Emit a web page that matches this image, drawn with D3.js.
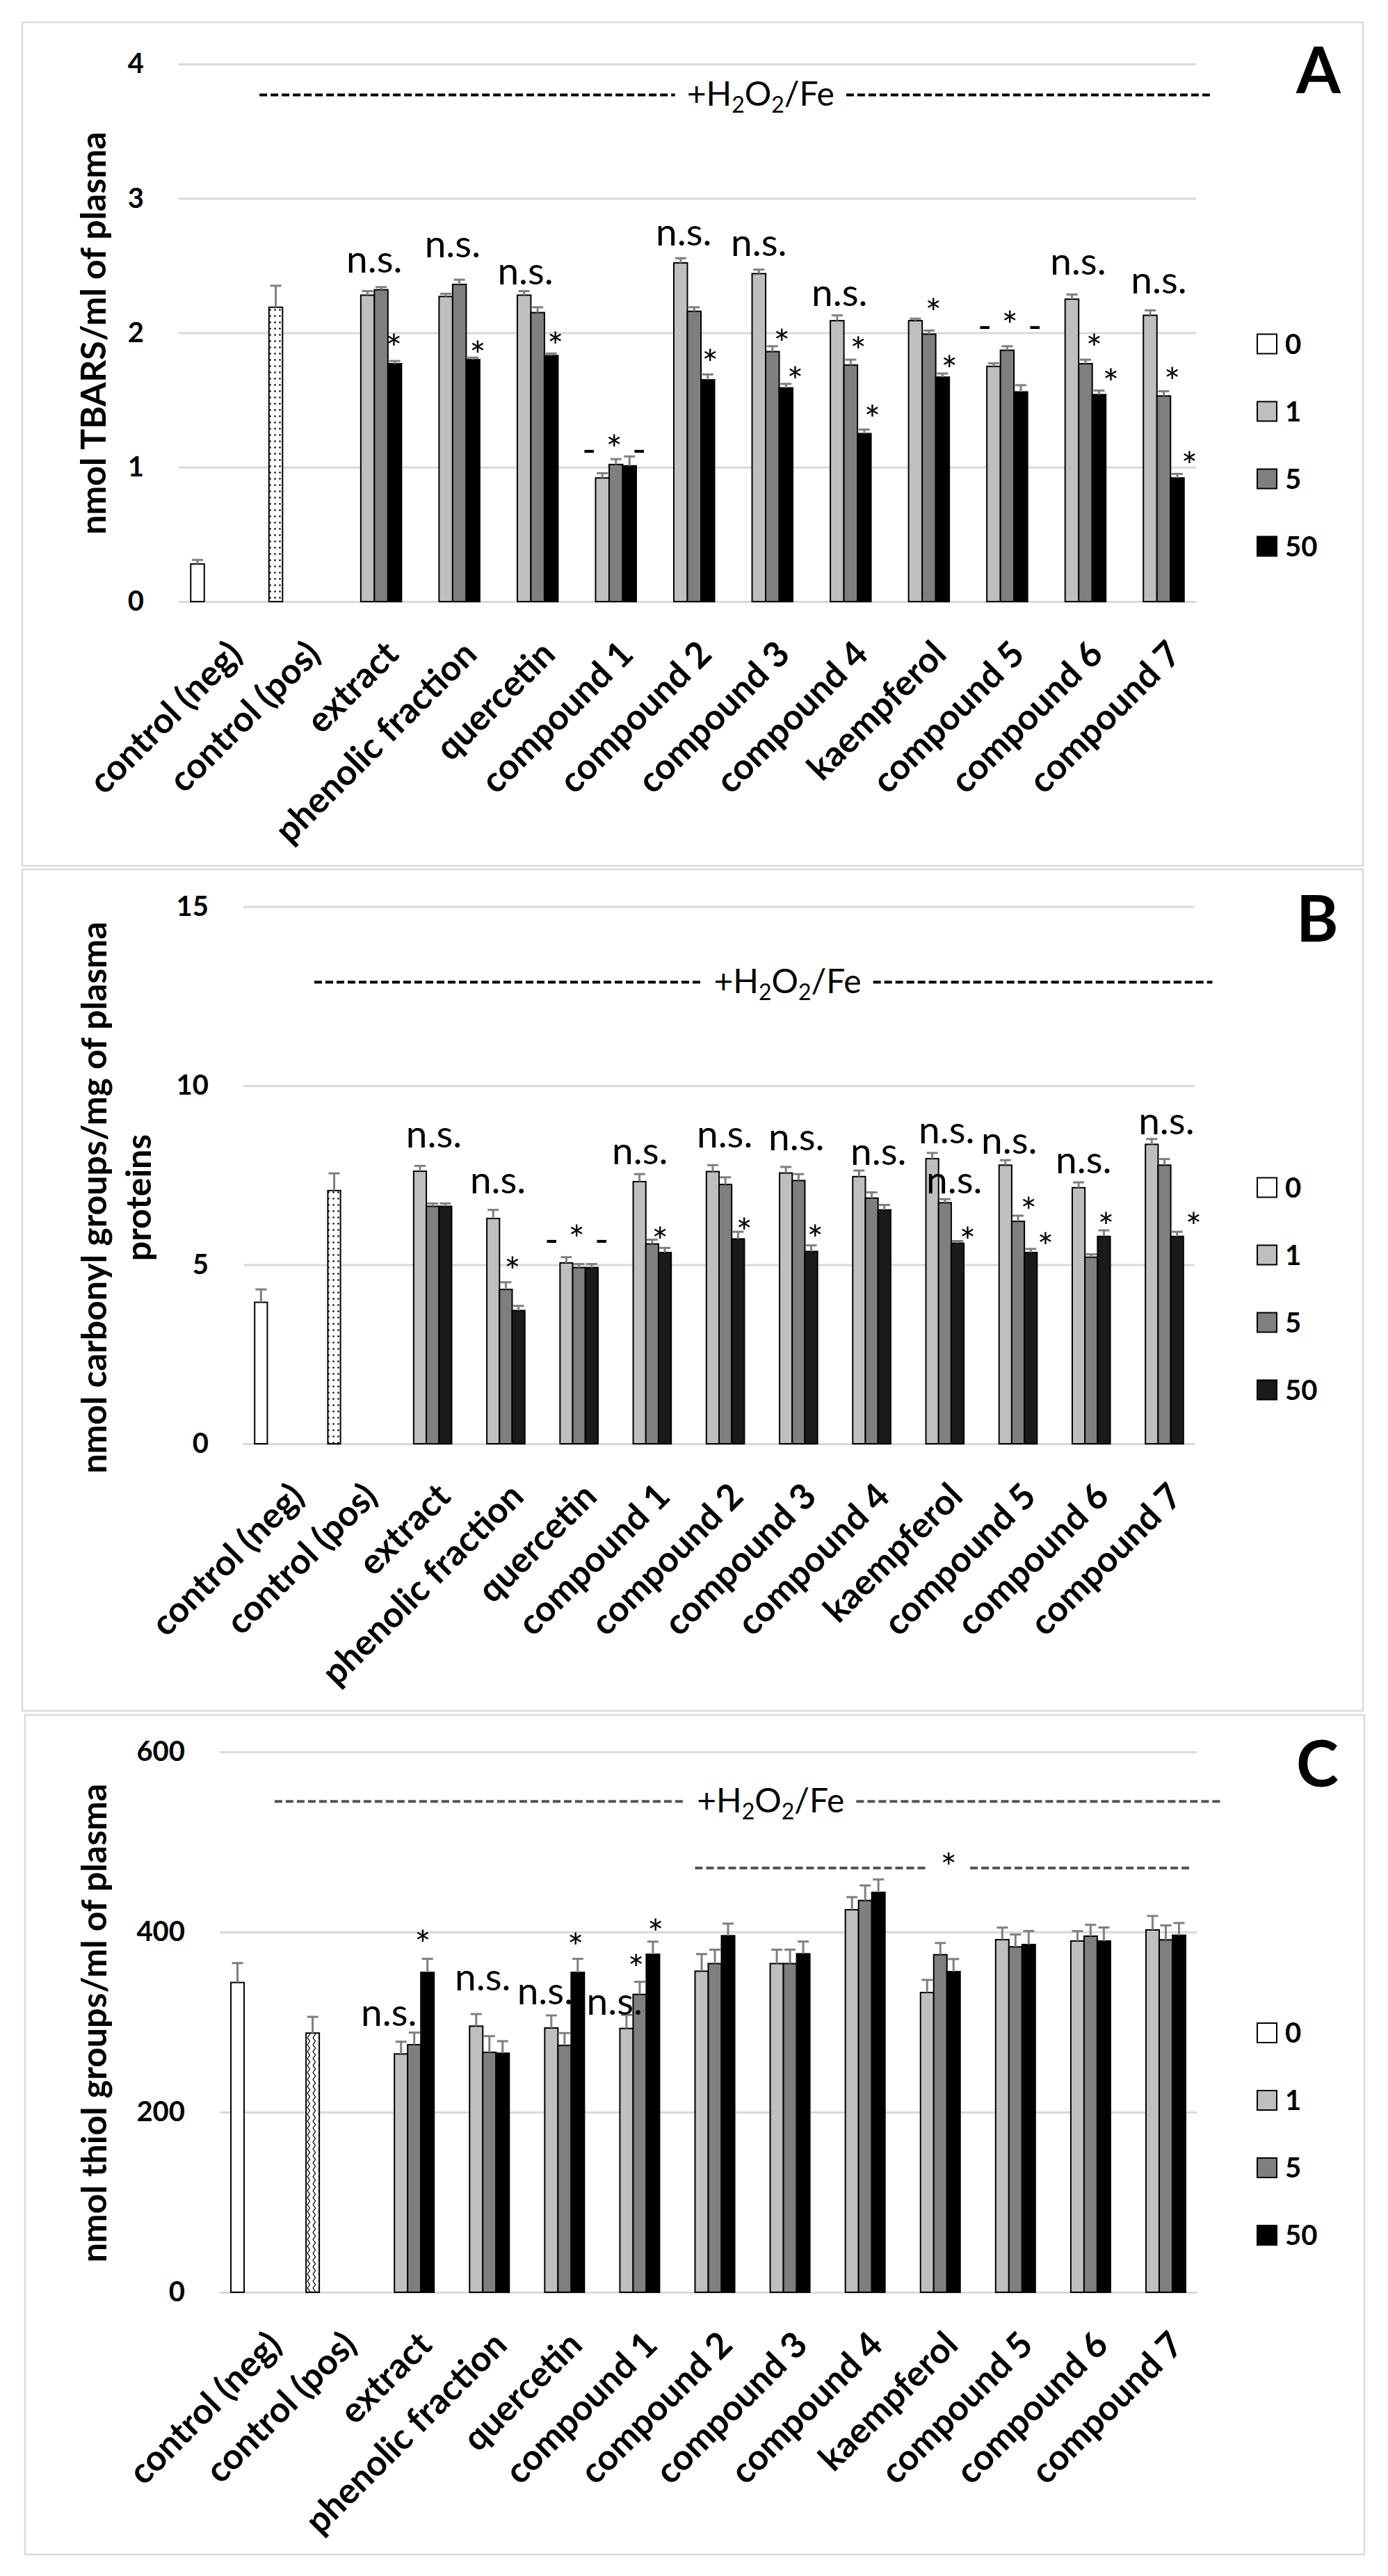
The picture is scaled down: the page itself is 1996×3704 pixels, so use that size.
<!DOCTYPE html>
<html><head><meta charset="utf-8">
<script src="https://cdn.jsdelivr.net/npm/d3@7"></script>
<style>
html,body{margin:0;padding:0;background:#fff;}
svg{display:block;font-family:Lato,"Open Sans",sans-serif;}
</style></head><body>
<svg id="chart" width="1996" height="3704"></svg>
<script>
const N = null;
const categories = ["control (neg)","control (pos)","extract","phenolic fraction","quercetin","compound 1","compound 2","compound 3","compound 4","kaempferol","compound 5","compound 6","compound 7"];
const doses = ["0","1","5","50"];

// ---- Panel A: TBARS (nmol/ml plasma)
const tbarsDose0  = [0.28,2.19,N,N,N,N,N,N,N,N,N,N,N];
const tbarsDose1  = [N,N,2.28,2.27,2.28,0.92,2.52,2.44,2.09,2.09,1.75,2.25,2.13];
const tbarsDose5  = [N,N,2.32,2.36,2.15,1.02,2.16,1.86,1.76,1.99,1.87,1.77,1.53];
const tbarsDose50 = [N,N,1.77,1.80,1.83,1.01,1.65,1.59,1.25,1.67,1.56,1.54,0.92];
const tbarsErr0  = [0.03,0.16,N,N,N,N,N,N,N,N,N,N,N];
const tbarsErr1  = [N,N,0.03,0.02,0.03,0.035,0.035,0.03,0.04,0.015,0.023,0.035,0.037];
const tbarsErr5  = [N,N,0.02,0.035,0.04,0.04,0.03,0.04,0.04,0.027,0.03,0.03,0.035];
const tbarsErr50 = [N,N,0.02,0.015,0.016,0.07,0.04,0.03,0.03,0.027,0.05,0.03,0.03];
// annotations: [category, slot within cluster, level]
const tbarsNs = [["extract",1.5,2.45],["phenolic fraction",1.5,2.56],["quercetin",1.1,2.36],["compound 2",1.23,2.65],["compound 3",1.0,2.57],["compound 4",1.18,2.2],["compound 6",1.46,2.43],["compound 7",1.64,2.29]];
const tbarsStar = [["extract",2.94,1.785],["phenolic fraction",3.35,1.733],["quercetin",3.31,1.80],["compound 2",3.18,1.671],["compound 3",2.69,1.821],["compound 3",3.67,1.542],["compound 4",2.56,1.764],["compound 4",3.59,1.257],["kaempferol",2.33,2.049],["kaempferol",3.51,1.624],["compound 6",2.64,1.785],["compound 6",3.87,1.526],["compound 7",2.62,1.536],["compound 7",3.9,0.91]];
const tbarsGroupStar = [["compound 1",1.87,1.035],["compound 5",2.2,1.956]];

// ---- Panel B: carbonyl groups (nmol/mg plasma proteins)
const carbDose0  = [3.95,7.07,N,N,N,N,N,N,N,N,N,N,N];
const carbDose1  = [N,N,7.61,6.29,5.05,7.32,7.60,7.56,7.46,7.96,7.78,7.15,8.36];
const carbDose5  = [N,N,6.63,4.31,4.92,5.58,7.24,7.35,6.86,6.73,6.21,5.21,7.78];
const carbDose50 = [N,N,6.63,3.72,4.92,5.34,5.72,5.37,6.53,5.60,5.34,5.79,5.79];
const carbErr0  = [0.36,0.48,N,N,N,N,N,N,N,N,N,N,N];
const carbErr1  = [N,N,0.15,0.24,0.16,0.21,0.18,0.17,0.17,0.16,0.14,0.15,0.15];
const carbErr5  = [N,N,0.08,0.20,0.10,0.12,0.20,0.18,0.16,0.10,0.16,0.08,0.17];
const carbErr50 = [N,N,0.08,0.13,0.10,0.13,0.20,0.17,0.14,0.06,0.10,0.17,0.13];
const carbNs = [["extract",2.1,8.27],["phenolic fraction",1.38,6.99],["compound 1",1.03,7.80],["compound 2",1.95,8.27],["compound 3",1.83,8.19],["compound 4",2.53,7.78],["kaempferol",2.14,8.38],["kaempferol",2.74,6.99],["compound 5",1.30,8.10],["compound 6",1.40,7.56],["compound 7",2.16,8.64]];
const carbStar = [["phenolic fraction",2.53,4.45],["compound 1",2.62,5.28],["compound 2",3.49,5.53],["compound 3",3.31,5.34],["kaempferol",3.79,5.28],["compound 5",2.84,6.12],["compound 5",4.16,5.13],["compound 6",3.16,5.69],["compound 7",4.3,5.69]];
const carbGroupStar = [["quercetin",1.81,5.34]];

// ---- Panel C: thiol groups (nmol/ml plasma)
const thiolDose0  = [343.9,287.8,N,N,N,N,N,N,N,N,N,N,N];
const thiolDose1  = [N,N,264.6,295.5,293.4,292.9,356.5,364.9,424.7,332.8,391.5,390.0,402.3];
const thiolDose5  = [N,N,274.9,266.4,274.1,330.7,364.9,364.9,435.0,374.8,383.5,395.4,391.3];
const thiolDose50 = [N,N,355.2,265.4,355.2,375.3,395.9,375.8,444.0,356.0,386.1,390.0,396.4];
const thiolErr0  = [21.6,18,N,N,N,N,N,N,N,N,N,N,N];
const thiolErr1  = [N,N,13.6,13.4,14,15,19,15.5,14,14,13.4,11,15.5];
const thiolErr5  = [N,N,13.4,18,13.7,14,15.5,15.5,16.7,13,13.7,12.6,16];
const thiolErr50 = [N,N,15,13.4,15,14,13.4,13.6,14.4,14,15,15,13.6];
const thiolNs = [["extract",0.08,295.5],["phenolic fraction",1.5,335.4],["quercetin",0.53,320],["compound 1",0.1,308.4]];
const thiolStar = [["extract",2.64,371.4],["quercetin",2.84,368.3],["compound 1",1.73,344.4],["compound 1",3.2,383.8]];
const thiolGroupStar = [];

const yTicksA = [0,1,2,3,4];
const yTicksB = [0,5,10,15];
const yTicksC = [0,200,400,600];

const fills = ["#ffffff","#bfbfbf","#7f7f7f","#000000"];

const svg = d3.select("#chart");
svg.append("rect").attr("width",1996).attr("height",3704).attr("fill","#fff");
const defs = svg.append("defs");
const pd = defs.append("pattern").attr("id","dots").attr("patternUnits","userSpaceOnUse").attr("width",7).attr("height",9);
pd.append("rect").attr("width",7).attr("height",9).attr("fill","#fff");
pd.append("circle").attr("cx",3.5).attr("cy",4.5).attr("r",1.3).attr("fill","#000");
const pz = defs.append("pattern").attr("id","zig").attr("patternUnits","userSpaceOnUse").attr("width",8).attr("height",10);
pz.append("rect").attr("width",8).attr("height",10).attr("fill","#fff");
pz.append("path").attr("d","M2,0 L5.5,5 L2,10").attr("stroke","#000").attr("fill","none").attr("stroke-width",1.3);

const panels = [
 {letter:"A", box:[32,32,1960,1245], x0:257, x1:1720, yZero:865, yTop:92, domain:[0,4], ticks:yTicksA, barW:19.5,
  title:["nmol TBARS/ml of plasma"], titleX:[152], titleY:479,
  values:[tbarsDose0,tbarsDose1,tbarsDose5,tbarsDose50], errors:[tbarsErr0,tbarsErr1,tbarsErr5,tbarsErr50],
  ns:tbarsNs, stars:tbarsStar, groupStars:tbarsGroupStar,
  topLine:{from:["control (pos)",-1.2], to:["compound 7",5.44], y:3.77, at:0.527},
  legendTop:494.5, letterY:134, pattern:"dots", dashColor:"#000", dashW:4, black:"#000"},
 {letter:"B", box:[32,1250,1960,2460], x0:350, x1:1718, yZero:2076, yTop:1303.5, domain:[0,15], ticks:yTicksB, barW:18.2,
  title:["nmol carbonyl groups/mg of plasma","proteins"], titleX:[153,217], titleY:1722,
  values:[carbDose0,carbDose1,carbDose5,carbDose50], errors:[carbErr0,carbErr1,carbErr5,carbErr50],
  ns:carbNs, stars:carbStar, groupStars:carbGroupStar,
  topLine:{from:["control (pos)",-1.57], to:["compound 7",5.79], y:12.89, at:0.527},
  legendTop:1707.5, letterY:1354, pattern:"dots", dashColor:"#000", dashW:4, black:"#1a1a1a"},
 {letter:"C", box:[36,2466,1962,3673], x0:316, x1:1721, yZero:3296, yTop:2519, domain:[0,600], ticks:yTicksC, barW:19,
  title:["nmol thiol groups/ml of plasma"], titleX:[153], titleY:2909,
  values:[thiolDose0,thiolDose1,thiolDose5,thiolDose50], errors:[thiolErr0,thiolErr1,thiolErr5,thiolErr50],
  ns:thiolNs, stars:thiolStar, groupStars:thiolGroupStar,
  topLine:{from:["control (pos)",-2.88], to:["compound 7",6.34], y:545, at:0.523},
  groupLine:{from:["compound 2",0.5], to:["compound 7",4.0], y:471, starY:457, at:0.51},
  legendTop:2923, letterY:2569, pattern:"zig", dashColor:"#555", dashW:4, black:"#000"}
];

function drawPanel(p){
  const g = svg.append("g");
  const x = d3.scaleBand().domain(categories).range([p.x0,p.x1]).padding(0);
  const y = d3.scaleLinear().domain(p.domain).range([p.yZero,p.yTop]);
  const sx = (cat,slot) => x(cat) + x.bandwidth()/2 + (slot-1.5)*p.barW;
  const fillFor = (s,i) => (s===0 && i===1) ? `url(#${p.pattern})` : (s===3 ? p.black : fills[s]);

  g.append("rect").attr("x",p.box[0]).attr("y",p.box[1]).attr("width",p.box[2]-p.box[0]).attr("height",p.box[3]-p.box[1])
   .attr("fill","none").attr("stroke","#d9d9d9").attr("stroke-width",2.5);

  const ya = g.append("g").attr("transform",`translate(${p.x0},0)`)
    .call(d3.axisLeft(y).tickValues(p.ticks).tickSize(-(p.x1-p.x0)).tickPadding(50).tickFormat(d3.format("d")));
  ya.select(".domain").remove();
  ya.selectAll(".tick line").attr("stroke","#d9d9d9").attr("stroke-width",3);
  ya.selectAll(".tick text").attr("font-family","Lato").attr("font-weight","bold").attr("font-size",40).attr("fill","#000");

  const xa = g.append("g").attr("transform",`translate(0,${p.yZero})`).call(d3.axisBottom(x).tickSize(0));
  xa.select(".domain").attr("stroke","#d9d9d9").attr("stroke-width",3);
  xa.selectAll(".tick text").attr("font-family","Lato").attr("font-weight","bold").attr("font-size",51).attr("fill","#000")
    .attr("text-anchor","end").attr("x",0).attr("y",0).attr("dy","0.35em")
    .attr("transform","translate(25,66) rotate(-45)");

  p.values.forEach((arr,s)=>{
    const data = arr.map((v,i)=>({v,i,e:p.errors[s][i]})).filter(d=>d.v!==null);
    g.append("g").selectAll("rect").data(data).join("rect")
      .attr("x",d=>sx(categories[d.i],s)-p.barW/2).attr("width",p.barW)
      .attr("y",d=>y(d.v)).attr("height",d=>y(0)-y(d.v))
      .attr("fill",d=>fillFor(s,d.i)).attr("stroke","#000").attr("stroke-width",2);
    const eg = g.append("g").attr("stroke","#7f7f7f").attr("stroke-width",3);
    eg.selectAll("line.v").data(data).join("line").attr("class","v")
      .attr("x1",d=>sx(categories[d.i],s)).attr("x2",d=>sx(categories[d.i],s))
      .attr("y1",d=>y(d.v)).attr("y2",d=>y(d.v+d.e));
    eg.selectAll("line.c").data(data).join("line").attr("class","c")
      .attr("x1",d=>sx(categories[d.i],s)-8).attr("x2",d=>sx(categories[d.i],s)+8)
      .attr("y1",d=>y(d.v+d.e)).attr("y2",d=>y(d.v+d.e));
  });

  const ann = g.append("g").attr("font-family","Lato").attr("font-size",55).attr("fill","#000").attr("text-anchor","middle");
  ann.selectAll("text.ns").data(p.ns).join("text").attr("class","ns")
    .attr("x",d=>sx(d[0],d[1])).attr("y",d=>y(d[2])).text("n.s.");
  ann.selectAll("text.st").data(p.stars).join("text").attr("class","st")
    .attr("x",d=>sx(d[0],d[1])).attr("y",d=>y(d[2])).text("*");
  ann.selectAll("text.gs").data(p.groupStars).join("text").attr("class","gs")
    .attr("x",d=>sx(d[0],d[1])).attr("y",d=>y(d[2])).text("- * -");

  const tl = p.topLine;
  const lx0 = sx(tl.from[0],tl.from[1]), lx1 = sx(tl.to[0],tl.to[1]);
  const ly = y(tl.y);
  const tcx = lx0 + tl.at*(lx1-lx0);
  const t = g.append("text").attr("font-family","Lato").attr("font-size",48).attr("fill","#000")
    .attr("text-anchor","middle").attr("x",tcx).attr("y",ly+16);
  t.append("tspan").text("+H");
  t.append("tspan").attr("font-size",32).attr("dy",10).text("2");
  t.append("tspan").attr("dy",-10).text("O");
  t.append("tspan").attr("font-size",32).attr("dy",10).text("2");
  t.append("tspan").attr("dy",-10).text("/Fe");
  const tw = t.node().getComputedTextLength();
  const dashG = g.append("g").attr("stroke",p.dashColor).attr("stroke-width",p.dashW).attr("stroke-dasharray","11 5");
  dashG.append("line").attr("x1",lx0).attr("x2",tcx-tw/2-17).attr("y1",ly).attr("y2",ly);
  dashG.append("line").attr("x1",tcx+tw/2+17).attr("x2",lx1).attr("y1",ly).attr("y2",ly);

  if(p.groupLine){
    const gl = p.groupLine;
    const gx0 = sx(gl.from[0],gl.from[1]), gx1 = sx(gl.to[0],gl.to[1]);
    const gy = y(gl.y), gcx = gx0 + gl.at*(gx1-gx0);
    g.append("text").attr("font-family","Lato").attr("font-size",55).attr("text-anchor","middle")
      .attr("x",gcx).attr("y",y(gl.starY)).text("*");
    dashG.append("line").attr("x1",gx0).attr("x2",gcx-31).attr("y1",gy).attr("y2",gy);
    dashG.append("line").attr("x1",gcx+31).attr("x2",gx1).attr("y1",gy).attr("y2",gy);
  }

  p.title.forEach((line,k)=>{
    g.append("text").attr("font-family","Lato").attr("font-weight","bold").attr("font-size",50)
      .attr("text-anchor","middle").attr("transform",`translate(${p.titleX[k]},${p.titleY}) rotate(-90)`).text(line);
  });

  const lg = g.append("g");
  doses.forEach((d,s)=>{
    const cy = p.legendTop + s*97;
    lg.append("rect").attr("x",1808).attr("y",cy-14).attr("width",28).attr("height",28)
      .attr("fill",s===3?p.black:fills[s]).attr("stroke","#000").attr("stroke-width",2);
    lg.append("text").attr("x",1848).attr("y",cy).attr("dy","0.36em").attr("font-family","Lato")
      .attr("font-weight","bold").attr("font-size",40).text(d);
  });

  g.append("text").attr("x",1864).attr("y",p.letterY).attr("font-family","Lato").attr("font-weight","bold")
    .attr("font-size",92).text(p.letter);
}
panels.forEach(drawPanel);
</script>
</body></html>
